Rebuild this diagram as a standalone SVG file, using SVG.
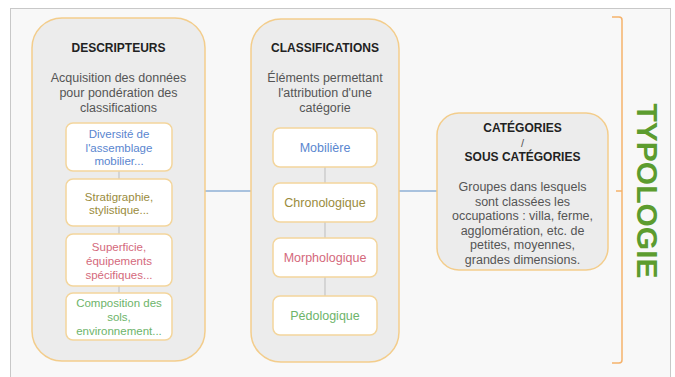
<svg xmlns="http://www.w3.org/2000/svg" width="675" height="377" viewBox="0 0 675 377">
  <style>
    text { font-family: "Liberation Sans", Arial, sans-serif; text-anchor: middle; }
    .title { font-size: 12px; font-weight: bold; fill: #222; }
    .desc { font-size: 12.5px; fill: #555; }
    .small { font-size: 11.5px; }
    .mid { font-size: 12.5px; }
    .container { fill: #ececec; stroke: #f3cd8c; stroke-width: 1.5; }
    .inner { fill: #ffffff; stroke: #f3d59c; stroke-width: 1.5; }
    .blue { fill: #5a86cf; }
    .olive { fill: #9a8b3c; }
    .pink { fill: #d4697c; }
    .green { fill: #6db46a; }
    .link { stroke: #8fb0d6; stroke-width: 1.5; fill: none; }
    .vlink { stroke: #bdbdbd; stroke-width: 1; fill: none; }
  </style>
  <rect x="0" y="0" width="675" height="377" fill="#ffffff"/>
  <rect x="10.5" y="8.5" width="660" height="380" fill="#f8f8f8" stroke="#c8c8c8" stroke-width="1"/>

  <g id="connectors">
    <line class="link" x1="205" y1="191" x2="251" y2="191"/>
    <line class="link" x1="399" y1="191" x2="437" y2="191"/>
  </g>

  <g id="descripteurs">
    <rect class="container" x="32" y="18" width="173" height="343" rx="30"/>
    <text class="title" x="118.5" y="52">DESCRIPTEURS</text>
    <text class="desc" x="118.5" y="82">Acquisition des données</text>
    <text class="desc" x="118.5" y="97">pour pondération des</text>
    <text class="desc" x="118.5" y="112">classifications</text>
    <line class="vlink" x1="119" y1="123" x2="119" y2="340"/>
    <g id="desc-mobilier">
      <rect class="inner" x="66" y="123" width="106" height="48" rx="7"/>
      <text class="small blue" x="119" y="138">Diversité de</text>
      <text class="small blue" x="119" y="151.5">l'assemblage</text>
      <text class="small blue" x="119" y="165">mobilier...</text>
    </g>
    <g id="desc-strati">
      <rect class="inner" x="66" y="179" width="106" height="47" rx="7"/>
      <text class="small olive" x="119" y="201">Stratigraphie,</text>
      <text class="small olive" x="119" y="213.5">stylistique...</text>
    </g>
    <g id="desc-superficie">
      <rect class="inner" x="66" y="234" width="106" height="52" rx="7"/>
      <text class="small pink" x="119" y="251">Superficie,</text>
      <text class="small pink" x="119" y="265">équipements</text>
      <text class="small pink" x="119" y="278.5">spécifiques...</text>
    </g>
    <g id="desc-sols">
      <rect class="inner" x="66" y="293" width="106" height="47" rx="7"/>
      <text class="small green" x="119" y="307">Composition des</text>
      <text class="small green" x="119" y="321">sols,</text>
      <text class="small green" x="119" y="334.5">environnement...</text>
    </g>
  </g>

  <g id="classifications">
    <rect class="container" x="251" y="19" width="148" height="343" rx="30"/>
    <text class="title" x="325" y="52">CLASSIFICATIONS</text>
    <text class="desc" x="325" y="82">Éléments permettant</text>
    <text class="desc" x="325" y="97">l'attribution d'une</text>
    <text class="desc" x="325" y="112">catégorie</text>
    <line class="vlink" x1="325" y1="128" x2="325" y2="335"/>
    <g id="cls-mobiliere">
      <rect class="inner" x="273" y="128" width="104" height="39" rx="7"/>
      <text class="mid blue" x="325" y="152">Mobilière</text>
    </g>
    <g id="cls-chrono">
      <rect class="inner" x="273" y="183" width="104" height="39" rx="7"/>
      <text class="mid olive" x="325" y="207">Chronologique</text>
    </g>
    <g id="cls-morpho">
      <rect class="inner" x="273" y="238" width="104" height="39" rx="7"/>
      <text class="mid pink" x="325" y="262">Morphologique</text>
    </g>
    <g id="cls-pedo">
      <rect class="inner" x="273" y="296" width="104" height="39" rx="7"/>
      <text class="mid green" x="325" y="320">Pédologique</text>
    </g>
  </g>

  <g id="categories">
    <rect class="container" x="437" y="113" width="171" height="157" rx="22"/>
    <text class="title" x="522.5" y="132">CATÉGORIES</text>
    <text class="desc" x="522.5" y="147" style="font-size:11px">/</text>
    <text class="title" x="522.5" y="161">SOUS CATÉGORIES</text>
    <text class="desc" x="522.5" y="191">Groupes dans lesquels</text>
    <text class="desc" x="522.5" y="205.5">sont classées les</text>
    <text class="desc" x="522.5" y="220">occupations : villa, ferme,</text>
    <text class="desc" x="522.5" y="234.5">agglomération, etc. de</text>
    <text class="desc" x="522.5" y="249">petites, moyennes,</text>
    <text class="desc" x="522.5" y="263.5">grandes dimensions.</text>
  </g>

  <g id="typologie">
    <path d="M612,17 H619 Q622,17 622,20 V360 Q622,363 619,363 H612 M622,191 H616" fill="none" stroke="#f5b26b" stroke-width="1.5"/>
    <text transform="translate(637,191) rotate(90)" x="0" y="0" style="font-size:30px;font-weight:bold;fill:#5c9c2f">TYPOLOGIE</text>
  </g>
</svg>
